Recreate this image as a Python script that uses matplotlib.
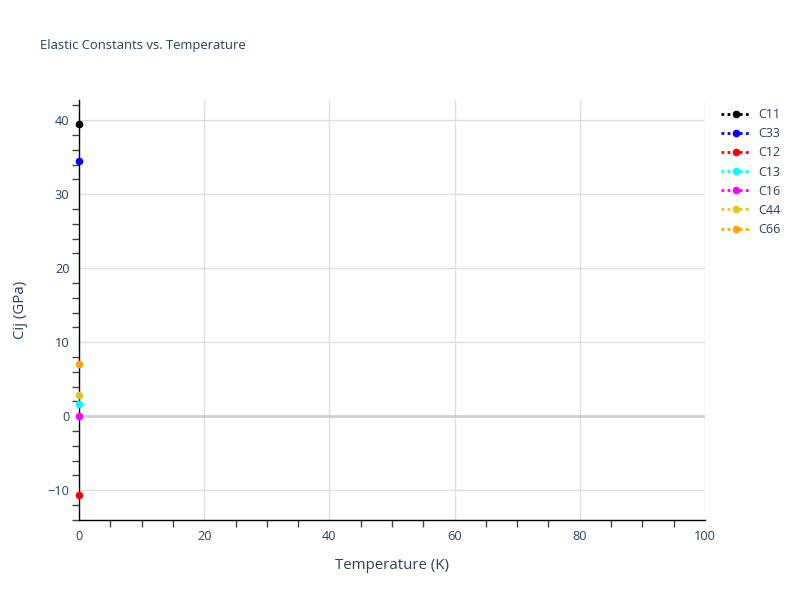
import matplotlib
matplotlib.use("Agg")
import matplotlib.pyplot as plt
from matplotlib.ticker import MultipleLocator

# elastic constants at T = 0 K
names = ["C11", "C33", "C12", "C13", "C16", "C44", "C66"]
temps = [0]
values = {
    "C11": [39.5],
    "C33": [34.5],
    "C12": [-10.7],
    "C13": [1.6],
    "C16": [0.0],
    "C44": [2.9],
    "C66": [7.1],
}
colors = ["black", "blue", "red", "cyan", "magenta", "#e6c229", "orange"]

txt = "#2a3f5f"
plt.rcParams['font.family'] = ['Open Sans', 'DejaVu Sans']

fig = plt.figure(figsize=(8, 6), dpi=100)
ax = fig.add_axes([0.099, 0.133, 0.782, 0.70])

for name, c in zip(names, colors):
    ax.plot(temps, values[name], linestyle=(0, (1, 1.2)), color=c, marker="o",
            markersize=4.5, linewidth=2, label=name, clip_on=False, zorder=5)

ax.set_xlim(0, 100)
ax.set_ylim(-14.05, 42.7)
ax.xaxis.set_major_locator(MultipleLocator(20))
ax.xaxis.set_minor_locator(MultipleLocator(5))
ax.yaxis.set_major_locator(MultipleLocator(10))
ax.yaxis.set_minor_locator(MultipleLocator(2))

ax.grid(True, which="major", color="#e0e0e0", linewidth=1)
ax.axhline(0, color="#d0d0d0", linewidth=2, zorder=1)
ax.set_axisbelow(True)

for s in ["top", "right"]:
    ax.spines[s].set_visible(False)
for s in ["left", "bottom"]:
    ax.spines[s].set_color("black")
    ax.spines[s].set_linewidth(1)

ax.tick_params(which="major", length=0, pad=7, labelsize=9.2, labelcolor=txt)
ax.tick_params(which="minor", length=5, color="#444444", width=1)

ax.set_xlabel("Temperature (K)", fontsize=10.8, color=txt, labelpad=11)
ax.set_ylabel("Cij (GPa)", fontsize=10.8, color=txt, labelpad=14)
fig.text(0.05, 0.925, "Elastic Constants vs. Temperature", fontsize=9.4,
         color=txt, va="center")

leg = ax.legend(loc="upper left", bbox_to_anchor=(1.018, 0.993), frameon=False,
                fontsize=9, handlelength=2.4, labelspacing=0.49,
                handletextpad=0.6, borderaxespad=0.0)
for t in leg.get_texts():
    t.set_color(txt)

fig.savefig("out.png", dpi=100)
